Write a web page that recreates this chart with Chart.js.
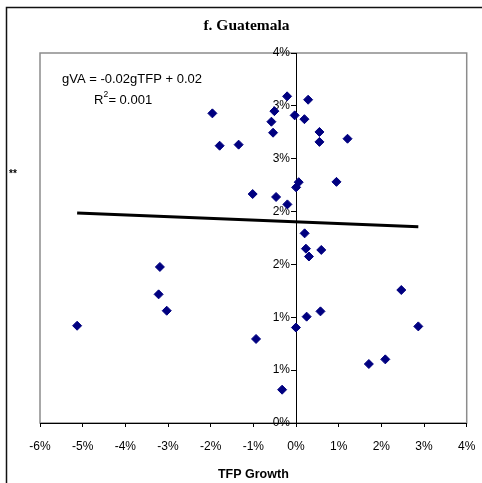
<!DOCTYPE html>
<html>
<head>
<meta charset="utf-8">
<script src="https://cdn.jsdelivr.net/npm/chart.js"></script>
<style>
  html, body { margin: 0; padding: 0; background: #fff; }
</style>
</head>
<body>
<canvas id="chart" width="482" height="483"></canvas>
<script>
// TFP growth (x) and value added growth (y), in percent
var tfpGrowth = [-5.13, -3.19, -3.22, -3.03, -1.96, -1.79, -1.345, -1.016, -0.937, -0.577,
                 -0.538, -0.507, -0.467, -0.326, -0.209, -0.202, -0.031, 0.002, 0.063, -0.002,
                 0.197, 0.284, 0.202, 0.232, 0.303, 0.249, 0.549, 0.549, 0.592, 0.573,
                 0.948, 1.207, 1.707, 2.092, 2.467, 2.866];
var vaGrowth = [0.92, 1.476, 1.217, 1.062, 2.929, 2.623, 2.633, 2.166, 0.795, 2.850,
                2.746, 2.950, 2.138, 0.315, 3.090, 2.068, 2.910, 2.229, 2.278, 0.903,
                2.874, 3.058, 1.794, 1.649, 1.575, 1.006, 2.753, 2.659, 1.637, 1.056,
                2.281, 2.689, 0.558, 0.602, 1.258, 0.914];

var xTickLabels = ['-6%', '-5%', '-4%', '-3%', '-2%', '-1%', '0%', '1%', '2%', '3%', '4%'];
var yTickLabels = ['0%', '1%', '1%', '2%', '2%', '3%', '3%', '4%'];

var chartTitle = 'f. Guatemala';
var eqLine = 'gVA = -0.02gTFP + 0.02';
var r2Value = '= 0.001';

var SANS = 'Liberation Sans, Arial, sans-serif';

// ordinary least squares trend
function fitLine(xs, ys) {
  var n = xs.length, sx = 0, sy = 0, sxx = 0, sxy = 0;
  for (var i = 0; i < n; i++) {
    sx += xs[i]; sy += ys[i]; sxx += xs[i] * xs[i]; sxy += xs[i] * ys[i];
  }
  var b = (n * sxy - sx * sy) / (n * sxx - sx * sx);
  var a = (sy - b * sx) / n;
  return { a: a, b: b };
}

var pts = tfpGrowth.map(function (x, i) { return { x: x, y: vaGrowth[i] }; });
var fit = fitLine(tfpGrowth, vaGrowth);
var xMin = Math.min.apply(null, tfpGrowth), xMax = Math.max.apply(null, tfpGrowth);
var trend = [{ x: xMin, y: fit.a + fit.b * xMin }, { x: xMax, y: fit.a + fit.b * xMax }];

var framePlugin = {
  id: 'frame',
  beforeDraw: function (chart) {
    var ctx = chart.ctx, ca = chart.chartArea;
    // y labels sit left of the crossing axis, past the tick marks
    var items = chart.scales.y.getLabelItems(ca);
    if (!items._shifted) {
      items.forEach(function (it) { it.options.translation[0] -= 6; });
      items._shifted = true;
    }
    ctx.save();
    ctx.fillStyle = '#fff';
    ctx.fillRect(0, 0, chart.width, chart.height);
    // outer border
    ctx.strokeStyle = '#111';
    ctx.lineWidth = 1.5;
    ctx.beginPath();
    ctx.moveTo(6.5, chart.height);
    ctx.lineTo(6.5, 7.5);
    ctx.lineTo(chart.width, 7.5);
    ctx.stroke();
    // plot area
    ctx.strokeStyle = '#8c8c8c';
    ctx.lineWidth = 1.5;
    ctx.strokeRect(ca.left, ca.top, ca.right - ca.left, ca.bottom - ca.top);
    ctx.restore();
  },
  afterDraw: function (chart) {
    var ctx = chart.ctx;
    ctx.save();
    ctx.fillStyle = '#000';
    ctx.textBaseline = 'middle';
    ctx.textAlign = 'center';
    ctx.font = 'bold 15.5px Liberation Serif, Times New Roman, serif';
    ctx.fillText(chartTitle, 246.5, 26);
    ctx.textAlign = 'left';
    ctx.font = '13px ' + SANS;
    ctx.fillText(eqLine, 62, 79);
    ctx.fillText('R', 94, 100);
    var rw = ctx.measureText('R').width;
    ctx.font = '8.5px ' + SANS;
    ctx.fillText('2', 94 + rw, 95);
    ctx.font = '13px ' + SANS;
    ctx.fillText(r2Value, 94 + rw + 5, 100);
    ctx.font = 'bold 10px ' + SANS;
    ctx.fillText('**', 9, 174);
    ctx.restore();
  }
};

new Chart(document.getElementById('chart'), {
  type: 'scatter',
  data: {
    datasets: [
      {
        data: pts,
        pointStyle: 'rectRot',
        radius: 4.5,
        backgroundColor: '#000080',
        borderColor: '#000080',
        borderWidth: 1
      },
      {
        type: 'line',
        data: trend,
        borderColor: '#000',
        borderWidth: 3,
        pointRadius: 0,
        fill: false
      }
    ]
  },
  options: {
    responsive: false,
    animation: false,
    devicePixelRatio: 1,
    layout: { padding: { left: 40, right: 15.3, top: 53, bottom: 0 } },
    plugins: {
      legend: { display: false },
      tooltip: { enabled: false },
      title: { display: false }
    },
    scales: {
      x: {
        type: 'linear',
        min: -6,
        max: 4,
        afterFit: function (s) {
          s.height = 60;
          s.paddingLeft = 0;
          s.paddingRight = 0;
        },
        ticks: {
          stepSize: 1,
          color: '#000',
          padding: 12,
          font: { family: SANS, size: 12 },
          callback: function (v, i) { return xTickLabels[i]; }
        },
        grid: { drawOnChartArea: false, color: '#000', tickLength: 4 },
        border: { color: '#000', width: 1 },
        title: {
          display: true,
          text: 'TFP Growth',
          color: '#000',
          font: { family: SANS, size: 12.5, weight: 'bold' },
          padding: { top: 0, bottom: 1 }
        }
      },
      y: {
        type: 'linear',
        position: { x: 0 },
        min: 0,
        max: 3.5,
        afterFit: function (s) {
          s.paddingTop = 0;
          s.paddingBottom = 0;
        },
        ticks: {
          stepSize: 0.5,
          color: '#000',
          font: { family: SANS, size: 12 },
          callback: function (v, i) { return yTickLabels[i]; }
        },
        grid: { drawOnChartArea: false, color: '#000', tickLength: 5 },
        border: { color: '#000', width: 1 }
      }
    }
  },
  plugins: [framePlugin]
});
</script>
</body>
</html>
